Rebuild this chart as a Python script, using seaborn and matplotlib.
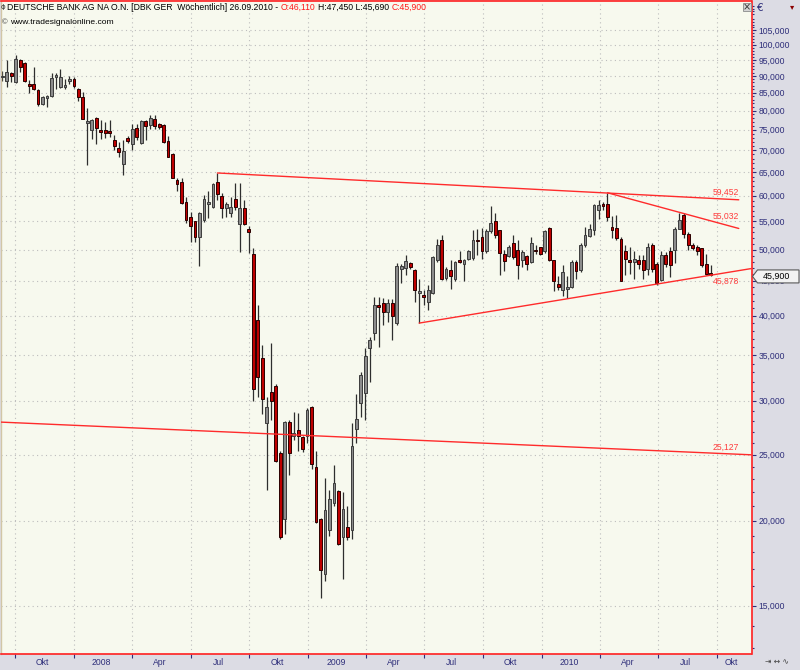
import numpy as np
import pandas as pd
import matplotlib
matplotlib.use("Agg")
import matplotlib.pyplot as plt
import matplotlib.dates as mdates
import matplotlib.ticker as mticker
from matplotlib.patches import Polygon, Rectangle
from matplotlib.transforms import IdentityTransform
import seaborn as sns

# ---------------- data (weekly OHLC, EUR) ----------------
first_week = "2007-09-11"

opens = [89.5, 88.3, 91.0, 88.0, 95.0, 93.9, 87.5, 87.5, 85.8, 81.8,
         83.5, 84.0, 89.8, 86.7, 86.7, 88.3, 89.1, 86.0, 83.7, 76.7,
         74.9, 78.0, 74.9, 74.9, 74.8, 72.5, 70.6, 66.9, 73.0, 71.4,
         75.4, 71.7, 77.2, 76.3, 77.9, 76.4, 76.2, 72.2, 69.2, 63.2,
         62.8, 58.8, 55.8, 55.0, 52.2, 55.2, 58.3, 57.8, 62.9, 60.0,
         57.6, 56.5, 59.3, 54.6, 57.6, 53.6, 49.3, 39.4, 34.7, 27.8,
         30.9, 31.5, 25.1, 20.1, 27.9, 26.6, 27.2, 26.5, 26.6, 29.4,
         24.0, 20.1, 16.7, 19.4, 21.2, 22.1, 18.9, 19.6, 19.4, 27.3,
         29.8, 30.8, 35.8, 37.7, 41.5, 41.7, 40.5, 41.7, 39.0, 46.8,
         47.0, 47.8, 46.7, 43.2, 42.8, 41.9, 43.2, 48.2, 51.7, 45.5,
         46.7, 45.2, 48.2, 47.7, 48.5, 48.6, 51.7, 52.2, 49.7, 53.3,
         55.0, 53.4, 49.3, 48.9, 51.1, 50.0, 48.3, 49.0, 48.0, 49.9,
         50.4, 49.7, 53.8, 48.2, 44.5, 43.6, 43.7, 44.0, 47.9, 46.6,
         50.8, 52.4, 53.4, 57.1, 58.3, 58.3, 53.9, 53.8, 51.8, 49.7,
         48.3, 47.9, 48.2, 48.2, 46.8, 50.8, 47.6, 45.1, 49.1, 49.7,
         49.9, 53.7, 56.2, 52.8, 50.8, 50.5, 50.2, 47.6, 46.11]

highs = [91.5, 94.8, 91.2, 96.6, 95.2, 94.2, 88.7, 92.6, 86.0, 84.0,
         84.4, 90.9, 91.0, 92.0, 89.0, 90.0, 89.5, 86.5, 85.3, 80.6,
         77.9, 78.3, 77.5, 77.0, 77.5, 73.7, 72.0, 72.4, 73.5, 76.5,
         76.6, 77.6, 77.6, 78.8, 78.8, 76.7, 76.6, 73.4, 69.3, 63.8,
         63.6, 59.8, 56.7, 55.0, 56.7, 60.1, 60.9, 62.6, 64.8, 60.5,
         58.7, 59.8, 62.6, 62.6, 59.1, 54.1, 50.3, 41.5, 36.2, 30.4,
         36.4, 31.7, 25.3, 28.0, 28.1, 28.9, 28.8, 26.6, 29.3, 29.5,
         25.3, 20.2, 23.1, 22.2, 24.1, 22.2, 22.0, 21.0, 27.8, 30.7,
         33.0, 35.8, 37.2, 42.6, 42.6, 42.5, 42.3, 42.3, 47.8, 47.6,
         49.1, 48.0, 46.8, 45.2, 43.6, 44.3, 48.9, 51.9, 52.5, 47.2,
         48.2, 48.1, 49.8, 48.5, 50.0, 53.5, 53.6, 53.8, 53.6, 58.0,
         56.6, 53.4, 49.9, 50.8, 52.5, 51.6, 49.9, 49.1, 52.2, 50.8,
         50.5, 53.4, 53.9, 48.3, 45.7, 47.4, 45.7, 48.2, 48.2, 51.1,
         54.0, 54.6, 58.3, 59.1, 58.7, 60.6, 56.0, 56.2, 52.2, 50.8,
         50.5, 49.7, 49.1, 49.1, 51.1, 51.2, 47.9, 49.8, 49.6, 50.5,
         54.0, 56.6, 56.6, 53.1, 51.1, 50.8, 50.2, 49.3, 47.45]

lows = [88.5, 86.8, 88.2, 87.8, 91.3, 88.0, 85.0, 85.8, 81.3, 81.5,
        81.0, 83.8, 86.2, 86.5, 86.0, 87.7, 86.5, 82.7, 77.7, 66.5,
        72.6, 71.4, 72.8, 73.0, 73.3, 70.0, 68.4, 64.3, 71.6, 70.0,
        72.4, 71.4, 72.4, 75.1, 75.1, 75.3, 71.8, 68.3, 63.6, 60.9,
        58.3, 54.7, 51.3, 51.3, 47.3, 54.9, 55.6, 57.5, 59.1, 55.6,
        55.9, 55.9, 57.2, 49.6, 54.3, 49.4, 30.0, 30.4, 28.7, 22.2,
        28.1, 24.4, 18.8, 19.1, 23.3, 26.3, 25.3, 25.2, 26.0, 23.8,
        19.8, 15.4, 16.3, 19.0, 21.0, 18.4, 16.4, 18.7, 18.8, 26.0,
        28.4, 28.1, 32.0, 36.8, 36.0, 38.8, 39.2, 36.8, 38.8, 44.6,
        45.9, 46.9, 41.9, 39.0, 41.4, 40.8, 43.1, 47.9, 45.1, 45.1,
        43.7, 45.0, 47.8, 45.0, 48.3, 48.2, 49.1, 48.5, 49.4, 52.9,
        52.0, 45.9, 46.5, 48.8, 48.5, 45.2, 47.2, 46.6, 47.8, 49.3,
        49.1, 49.5, 48.1, 43.4, 43.6, 42.7, 42.5, 43.9, 45.2, 46.3,
        50.5, 52.1, 52.5, 55.4, 57.1, 55.1, 52.0, 51.6, 44.9, 45.9,
        46.1, 45.3, 46.9, 45.3, 45.9, 46.3, 44.3, 45.0, 47.2, 45.6,
        47.8, 53.6, 52.0, 49.9, 49.9, 49.1, 47.1, 45.9, 45.69]

closes = [90.0, 91.3, 90.0, 95.2, 92.6, 88.3, 87.0, 86.0, 81.8, 83.8,
          83.8, 89.4, 90.2, 89.7, 87.2, 88.9, 86.9, 83.9, 77.9, 77.0,
          77.5, 75.5, 74.4, 74.3, 74.1, 70.9, 69.6, 69.9, 72.1, 75.1,
          73.3, 77.3, 75.9, 78.0, 76.0, 75.7, 72.0, 68.4, 63.8, 62.4,
          58.5, 55.2, 54.1, 52.2, 56.6, 59.3, 58.6, 62.5, 60.3, 57.5,
          58.4, 57.7, 57.7, 57.5, 54.6, 53.0, 31.2, 32.5, 30.2, 29.4,
          30.0, 24.5, 18.9, 27.9, 25.1, 26.9, 26.6, 25.5, 29.1, 24.2,
          19.9, 16.9, 20.7, 21.5, 22.7, 18.5, 20.8, 18.9, 25.7, 28.2,
          32.7, 34.9, 36.8, 41.5, 41.2, 40.5, 41.7, 39.9, 47.3, 47.3,
          48.1, 47.2, 43.6, 43.4, 42.6, 43.6, 48.8, 50.8, 45.2, 46.8,
          45.7, 48.0, 48.0, 48.3, 49.8, 51.7, 51.4, 49.7, 53.3, 54.8,
          52.5, 49.4, 48.1, 50.4, 48.8, 47.4, 49.6, 47.6, 51.1, 49.7,
          49.3, 53.2, 48.2, 45.0, 44.1, 46.3, 44.0, 47.9, 46.5, 50.8,
          52.5, 53.7, 58.1, 58.1, 57.9, 55.8, 53.4, 52.0, 45.0, 48.5,
          47.9, 48.5, 47.6, 46.6, 50.5, 46.9, 44.7, 49.1, 47.6, 47.4,
          53.7, 55.3, 52.7, 50.8, 50.2, 49.7, 47.4, 46.1, 45.90]

# trend lines drawn on the chart (anchor dates / values)
upper_dates = ["2008-08-12", "2010-11-04"]
upper_values = [64.8, 59.18]
mid_dates = ["2010-04-13", "2010-11-04"]
mid_values = [60.6, 53.71]
support_dates = ["2009-06-23", "2010-11-23"]
support_values = [39.0, 46.89]
long_dates = ["2007-09-09", "2010-11-23"]
long_values = [27.9, 24.98]

line_label_texts = ["59,452", "55,032", "45,878", "25,127"]
line_label_values = [59.452, 55.032, 45.878, 25.127]
line_label_offsets = [6, 5, -6, 6]   # px, up (+) / down (-)

x_tick_dates = ["2007-10-01", "2008-01-01", "2008-04-01", "2008-07-01",
                "2008-10-01", "2009-01-01", "2009-04-01", "2009-07-01",
                "2009-10-01", "2010-01-01", "2010-04-01", "2010-07-01",
                "2010-10-01"]
x_tick_labels = ["Okt", "2008", "Apr", "Jul", "Okt", "2009", "Apr", "Jul",
                 "Okt", "2010", "Apr", "Jul", "Okt"]
y_major = [15, 20, 25, 30, 35, 40, 45, 50, 55, 60, 65, 70, 75, 80, 85,
           90, 95, 100, 105]

title_main = "DEUTSCHE BANK AG NA O.N. [DBK GER  W\u00f6chentlich] 26.09.2010 -"
title_open = "O:46,110"
title_hl = "H:47,450 L:45,690"
title_close = "C:45,900"
subtitle = "www.tradesignalonline.com"
last_price_text = "45,900"

# ---------------- style ----------------
W, H = 800, 670
PANEL = "#DCDCE4"
PLOTBG = "#F7F9EE"
NAVY = "#2E2E7A"
RED_LINE = "#FF2B2B"
RED_TXT = "#FF3C3C"
FONT = "Liberation Sans"

sns.set_style("white")
plt.rcParams["font.family"] = [FONT, "DejaVu Sans"]

fig = plt.figure(figsize=(W / 100, H / 100), dpi=100, facecolor=PANEL)
ax = fig.add_axes([1 / W, 16 / H, 750.5 / W, 653 / H])
ax.set_facecolor(PLOTBG)

dates = pd.date_range(first_week, periods=len(opens), freq="7D")
o = np.array(opens); h = np.array(highs); l = np.array(lows); c = np.array(closes)
up = c >= o
body_bottom = np.minimum(o, c)
body_height = np.maximum(np.abs(c - o), body_bottom * 0.006)
fills = np.where(up, "#8C8C8C", "#BE0000")
edges = np.where(up, "#3C3C3C", "#2A0000")

ax.vlines(dates, l, h, color="#2E2E2E", lw=0.9, zorder=2)
ax.bar(dates, body_height, bottom=body_bottom, width=4.4, color=fills,
       edgecolor=edges, linewidth=0.7, zorder=3)

for ds, vs in [(upper_dates, upper_values), (mid_dates, mid_values),
               (support_dates, support_values), (long_dates, long_values)]:
    sns.lineplot(x=pd.to_datetime(ds), y=vs, ax=ax, color=RED_LINE, lw=1.0,
                 zorder=4)

ax.set_yscale("log")
ax.set_xlim(pd.Timestamp("2007-09-09 03:00"), pd.Timestamp("2010-11-23 21:00"))
ax.set_ylim(12.734, 115.93)
ax.set_xlabel("")
ax.set_ylabel("")

# y axis on the right
ax.yaxis.tick_right()
ax.yaxis.set_major_locator(mticker.FixedLocator(y_major))
ax.yaxis.set_major_formatter(mticker.FuncFormatter(
    lambda v, p: f"{v:.3f}".replace(".", ",")))
minor_vals = [v for v in range(13, 116) if v % 5 != 0]
ax.yaxis.set_minor_locator(mticker.FixedLocator(minor_vals))
ax.yaxis.set_minor_formatter(mticker.NullFormatter())
ax.tick_params(axis="y", which="major", direction="out", length=3, width=0.8,
               colors=NAVY, labelsize=6.2, pad=2, right=True, left=False)
ax.tick_params(axis="y", which="minor", direction="out", length=1.5,
               width=0.8, colors=NAVY, right=True, left=False)

# x axis: ticks at quarter starts, labels shifted into the quarter
tick_ts = pd.to_datetime(x_tick_dates)
label_ts = [t + pd.Timedelta(days=43) for t in tick_ts]
label_ts[-1] = tick_ts[-1] + pd.Timedelta(days=23)
ax.xaxis.set_major_locator(mticker.FixedLocator(mdates.date2num(tick_ts)))
ax.xaxis.set_major_formatter(mticker.NullFormatter())
ax.xaxis.set_minor_locator(mticker.FixedLocator(mdates.date2num(label_ts)))
ax.xaxis.set_minor_formatter(mticker.FixedFormatter(x_tick_labels))
ax.tick_params(axis="x", which="major", direction="out", length=3, width=0.8,
               colors=NAVY, bottom=True)
ax.tick_params(axis="x", which="minor", length=0, labelsize=6.2, pad=3,
               labelcolor=NAVY, bottom=True)

ax.set_axisbelow(True)
ax.grid(which="major", axis="both", color="#BDBDBD",
        linestyle=(0, (1, 3)), linewidth=0.8)

for side in ["top", "right", "bottom"]:
    ax.spines[side].set_color("#FF2020")
    ax.spines[side].set_linewidth(1.2)
ax.spines["left"].set_color("#D2C6A6")
ax.spines["left"].set_linewidth(1.0)

# trend line value labels
label_x = pd.Timestamp("2010-11-04")
for txt, val, off in zip(line_label_texts, line_label_values, line_label_offsets):
    ax.annotate(txt, xy=(label_x, val), xytext=(0, off),
                textcoords="offset pixels", ha="right", va="center",
                fontsize=6.2, color=RED_TXT, zorder=6)

# ---------------- header texts ----------------
renderer = fig.canvas.get_renderer()


def ftext(xpx, ypx, s, **kw):
    return fig.text(xpx / W, 1 - ypx / H, s, **kw)


def width_at(s, fs):
    t = ftext(0, 0, s, fontsize=fs)
    w = t.get_window_extent(renderer).width
    t.remove()
    return w


parts = [(title_main, "black"), (title_open, "#FF1A1A"),
         (title_hl, "black"), (title_close, "#FF1A1A")]
w10 = sum(width_at(p, 10) for p, _ in parts)
space10 = 10 * 100 / 72 * 0.3
total10 = w10 + space10 * (len(parts) - 1)
fs_title = 10 * (429 - 7) / total10
space = fs_title * 100 / 72 * 0.3

ftext(0.5, 9.5, "\u03d5", fontsize=fs_title * 0.8, color="#333333",
      va="baseline", family="DejaVu Sans")
xcur = 7
for txt, col in parts:
    t = ftext(xcur, 9.5, txt, fontsize=fs_title, color=col, va="baseline")
    xcur += t.get_window_extent(renderer).width + space

fs_sub = 10 * 103 / width_at(subtitle, 10)
ftext(1.5, 24, "\u00a9", fontsize=fs_sub * 0.9, color="#444444",
      va="baseline")
ftext(10, 24, subtitle, fontsize=fs_sub, color="black", va="baseline")

# close button in the plot corner
fig.add_artist(Rectangle((742.5, H - 11), 8, 8, transform=IdentityTransform(),
                         facecolor="#D4D4D4", edgecolor="#8A8A8A", lw=0.6,
                         zorder=10))
ftext(746.5, 7, "\u00d7", fontsize=7, color="#333333", ha="center",
      va="center", zorder=11, family="DejaVu Sans")

# currency sign and dropdown in the right panel
ftext(757, 8, "\u20ac", fontsize=7.5, color=NAVY, va="center",
      family="DejaVu Sans")
ftext(792, 7, "\u25be", fontsize=6, color="#8B0000", ha="center", va="center",
      family="DejaVu Sans")

# last price marker (covers part of the 45,000 axis label as in the original)
fig.canvas.draw()
yc = ax.transData.transform((mdates.date2num(dates[-1]), closes[-1]))[1] - 1.5
pts = [(752.5, yc), (757.5, yc + 6.5), (799, yc + 6.5), (799, yc - 6.5),
       (757.5, yc - 6.5)]
fig.add_artist(Polygon(pts, closed=True, transform=IdentityTransform(),
                       facecolor="#F2F2F2", edgecolor="#5A5A5A", lw=0.8,
                       zorder=10))
fig.text(776 / W, yc / H, last_price_text, fontsize=6.4, color="black",
         ha="center", va="center", zorder=11)

# small navigation icons bottom right
ftext(777, 662, "\u21e5 \u2194 \u223f", fontsize=5.5, color="#444444",
      ha="center", va="center", family="DejaVu Sans")

fig.savefig("out.png", dpi=100, facecolor=PANEL)
